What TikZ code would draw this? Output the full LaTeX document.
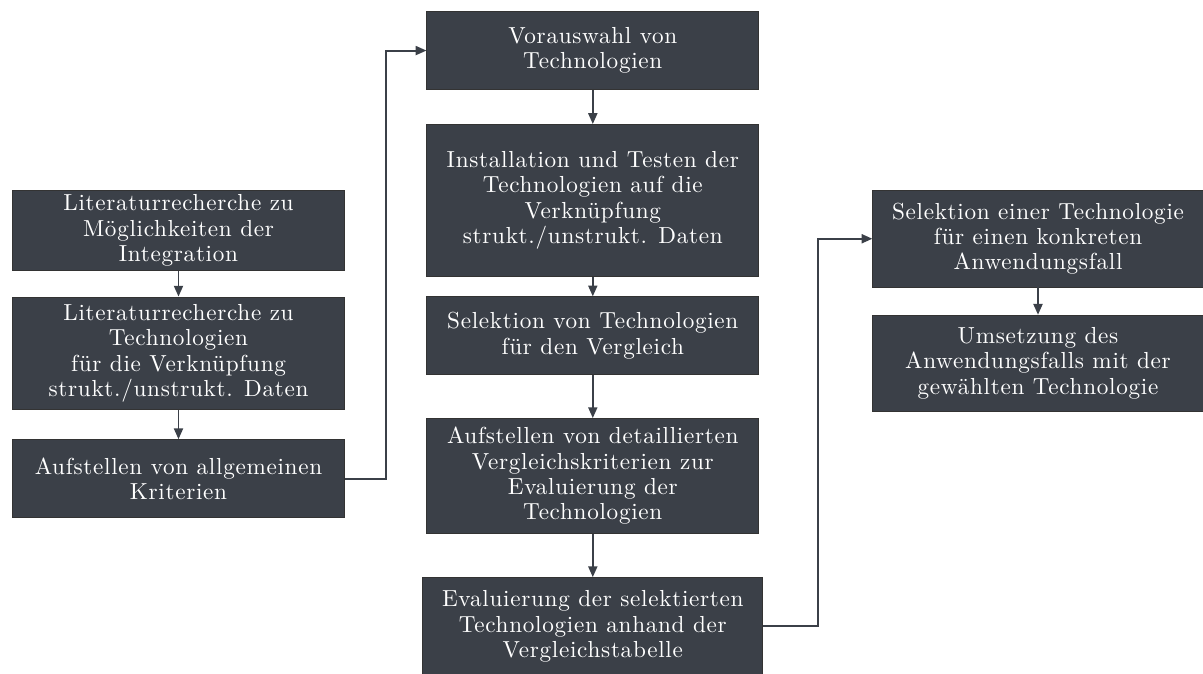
\documentclass[tikz,border=0pt]{standalone}
\usepackage{fontspec}
\setmainfont{Latin Modern Roman}[LetterSpace=3]
\usepackage{tikz}
\usetikzlibrary{arrows.meta,positioning}
\definecolor{boxgray}{RGB}{59,64,72}

\begin{document}
\begin{tikzpicture}[font=\fontsize{11}{12}\selectfont,
  blk/.style={draw=black!80,fill=boxgray,text=white,align=center,minimum width=5.53cm,minimum height=#1,inner sep=2pt},
  arr/.style={-{Triangle[length=1.8mm,width=1.5mm]},draw=boxgray,line width=0.9pt}]
\useasboundingbox (0,0) rectangle (20.05,-11.22);
% linke Spalte
\node[blk=1.305cm, anchor=north] (lit1) at (2.975,-3.167) {Literaturrecherche zu\\Möglichkeiten der\\Integration};
\node[blk=1.873cm, below=4.3mm of lit1] (lit2) {Literaturrecherche zu\\Technologien\\für die Verknüpfung\\strukt./unstrukt. Daten};
\node[blk=1.3cm, below=4.9mm of lit2] (krit) {Aufstellen von allgemeinen\\Kriterien};
% mittlere Spalte
\node[blk=1.295cm, anchor=north] (vor) at (9.88,-0.188) {Vorauswahl von\\Technologien};
\node[blk=2.528cm, below=5.7mm of vor] (inst) {Installation und Testen der\\Technologien auf die\\Verknüpfung\\strukt./unstrukt. Daten};
\node[blk=1.295cm, below=3.3mm of inst] (sel) {Selektion von Technologien\\für den Vergleich};
\node[blk=1.917cm, below=7.2mm of sel] (det) {Aufstellen von detaillierten\\Vergleichskriterien zur\\Evaluierung der\\Technologien};
\node[blk=1.628cm, minimum width=5.667cm, below=7.2mm of det] (eval) {Evaluierung der selektierten\\Technologien anhand der\\Vergleichstabelle};
% rechte Spalte
\node[blk=1.61cm, minimum width=5.505cm, anchor=north] (wahl) at (17.3,-3.167) {Selektion einer Technologie\\für einen konkreten\\Anwendungsfall};
\node[blk=1.6cm, below=4.55mm of wahl] (ums) {Umsetzung des\\Anwendungsfalls mit der\\gewählten Technologie};
\draw[arr] (lit1.south) -- (lit2.north);
\draw[arr] (lit2.south) -- (krit.north);
\draw[arr] (krit.east) -- ++(0.68,0) |- (vor.west);
\draw[arr] (vor.south) -- (inst.north);
\draw[arr] (inst.south) -- (sel.north);
\draw[arr] (sel.south) -- (det.north);
\draw[arr] (det.south) -- (eval.north);
\draw[arr] (eval.east) -- ++(0.907,0) |- (wahl.west);
\draw[arr] (wahl.south) -- (ums.north);
\end{tikzpicture}
\end{document}
